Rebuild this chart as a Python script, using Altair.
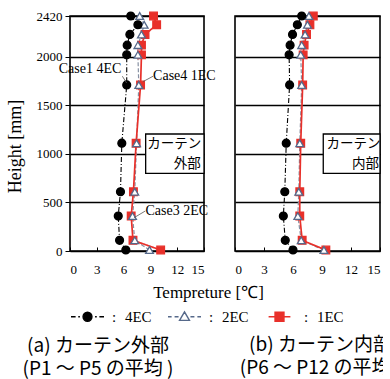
import altair as alt
import pandas as pd

# ---------------- data ----------------
series_names = ["4EC", "2EC", "1EC"]
heights = [2420, 2330, 2230, 2120, 2020, 1710, 1110, 610, 360, 110, 10]

# (a) curtain outside (P1-P5 average)
a_4ec = [6.8, 7.6, 6.7, 6.4, 6.35, 6.35, 5.8, 5.65, 5.4, 5.55, 6.25]
a_2ec = [7.8, 8.3, 8.0, 7.6, 7.6, 7.7, 7.45, 7.25, 7.0, 7.25, 8.9]
a_1ec = [9.35, 9.7, 8.4, 8.0, 8.0, 7.9, 7.4, 7.1, 6.85, 7.05, 10.15]

# (b) curtain inside (P6-P12 average)
b_4ec = [6.9, 6.45, 5.95, 5.7, 5.6, 5.65, 5.3, 5.15, 5.0, 5.2, 6.0]
b_2ec = [7.65, 7.5, 7.25, 6.9, 6.8, 6.9, 6.7, 6.6, 6.5, 6.85, 9.2]
b_1ec = [8.1, 7.75, 7.4, 7.15, 7.05, 7.0, 6.8, 6.7, 6.7, 6.95, 9.4]

x_ticks = [0, 3, 6, 9, 12, 15]
y_ticks = [0, 500, 1000, 1500, 2000, 2420]

# annotations in panel (a)
ann_labels = ["Case1 4EC", "Case4 1EC", "Case3 2EC"]
ann_x = [5.75, 9.3, 8.45]
ann_y = [1874, 1807, 415]
ann_align = ["right", "left", "left"]
lead_x1 = [5.86, 8.17, 7.17]
lead_y1 = [1800, 1744, 343]
lead_x2 = [6.34, 9.3, 8.43]
lead_y2 = [1730, 1800, 412]

box_line1 = "カーテン"
box_line2_a = "外部"
box_line2_b = "内部"

SERIF = "Liberation Serif"
CJK = "Noto Sans CJK JP"
RED = "#e8302a"
TRI = "#56698a"

LINE_STYLE = {
    "4EC": dict(color="black", strokeDash=[5, 2, 1, 2], strokeWidth=1.1),
    "2EC": dict(color="#8791a3", strokeDash=[4, 2], strokeWidth=1.2),
    "1EC": dict(color=RED, strokeDash=[1, 0], strokeWidth=1.7),
}
POINT_STYLE = {
    "4EC": dict(shape="circle", fill="black", stroke="black", size=62),
    "2EC": dict(shape="triangle-up", fill="white", stroke=TRI, size=60),
    "1EC": dict(shape="square", fill=RED, stroke=RED, size=58),
}

# legend keys: line + marker drawn as one symbol path
P4 = ("M-1,0H-0.72M-0.56,0H-0.46M0.46,0H0.56M0.72,0H1"
      "M0.27,0A0.27,0.27,0,1,1,-0.27,0A0.27,0.27,0,1,1,0.27,0Z")
P2 = "M-1,0H-0.78M-0.6,0H-0.36M0.36,0H0.6M0.78,0H1M0,-0.3L0.3,0.22L-0.3,0.22Z"
P1 = "M-0.66,0H0.66M-0.27,-0.27H0.27V0.27H-0.27Z"


def long_df(v4, v2, v1):
    rows = []
    for name, vals in (("1EC", v1), ("2EC", v2), ("4EC", v4)):
        for h, t in zip(heights, vals):
            rows.append({"series": name, "height": h, "temp": t})
    return pd.DataFrame(rows)


def panel(df, width, show_y, box_x1, line1_x, line2, line2_x, with_legend, title_text, title_dx, title_offset, annotate):
    xs = alt.Scale(domain=[0, 15], nice=False, zero=False)
    ys = alt.Scale(domain=[0, 2420], nice=False, zero=False)
    xaxis = alt.Axis(
        values=x_ticks, grid=False, domain=False, tickSize=4, tickColor="black",
        tickWidth=1, offset=-4, labelFont=SERIF, labelFontSize=13, labelColor="black",
        labelPadding=12, format="d",
        title="Tempreture [℃]" if show_y else None,
        titleFont=SERIF, titleFontSize=17, titleFontWeight="normal", titleColor="black",
        titleX=138, titlePadding=8,
    )
    if show_y:
        yaxis = alt.Axis(
            values=y_ticks, grid=True, gridColor="black", gridWidth=1.5, gridOpacity=1,
            domain=False, tickSize=5, tickColor="black", tickWidth=1, format="d",
            labelFont=SERIF, labelFontSize=13, labelColor="black", labelPadding=3,
            title="Height [mm]", titleFont=SERIF, titleFontSize=18,
            titleFontWeight="normal", titleColor="black", titlePadding=12, titleY=130,
        )
    else:
        yaxis = alt.Axis(
            values=y_ticks, grid=True, gridColor="black", gridWidth=1.5, gridOpacity=1,
            domain=False, ticks=False, labels=False, title=None,
        )

    def X(f):
        return alt.X(f, type="quantitative", scale=xs, axis=xaxis)

    def Y(f):
        return alt.Y(f, type="quantitative", scale=ys, axis=yaxis)

    base = alt.Chart(df)
    layers = []
    for name in ["4EC", "2EC", "1EC"]:
        layers.append(
            base.transform_filter(alt.datum.series == name).mark_line(**LINE_STYLE[name]).encode(
                x=X("temp"), y=Y("height"), order=alt.Order("height:Q")
            )
        )
    for name in ["1EC", "2EC", "4EC"]:
        st = POINT_STYLE[name]
        layers.append(
            base.transform_filter(alt.datum.series == name).mark_point(
                shape=st["shape"], fill=st["fill"], stroke=st["stroke"], size=st["size"],
                filled=True, opacity=1, strokeWidth=1.3,
            ).encode(x=X("temp"), y=Y("height"))
        )

    if with_legend:
        leg = alt.Legend(
            title=None, orient="none", legendX=0, legendY=283, direction="horizontal",
            symbolSize=1090, symbolStrokeWidth=1.4, symbolOpacity=1,
            labelFont=SERIF, labelFontSize=15, labelColor="black",
            labelOffset=7, columnPadding=13,
            labelExpr="':\u00a0\u00a0\u200a' + datum.label",
        )
        legend_layer = base.transform_filter("false").mark_point(opacity=1, filled=True).encode(
            x=X("temp"), y=Y("height"),
            shape=alt.Shape("series:N", scale=alt.Scale(domain=series_names, range=[P4, P2, P1]), legend=leg),
            fill=alt.Fill("series:N", scale=alt.Scale(domain=series_names, range=["black", "white", RED]), legend=leg),
            stroke=alt.Stroke("series:N", scale=alt.Scale(domain=series_names, range=["black", TRI, RED]), legend=leg),
        )
        layers.append(legend_layer)

    box_df = pd.DataFrame({"temp": [box_x1], "temp2": [15], "height": [800], "height2": [1205]})
    box = alt.Chart(box_df).mark_rect(fill="white", stroke="black", strokeWidth=1.3).encode(
        x=X("temp"), x2="temp2", y=Y("height"), y2="height2"
    )
    t1 = alt.Chart(pd.DataFrame({"temp": [line1_x], "height": [1102], "label": [box_line1]})).mark_text(
        align="left", baseline="middle", font=CJK, fontSize=13.5, color="black"
    ).encode(x=X("temp"), y=Y("height"), text="label:N")
    t2 = alt.Chart(pd.DataFrame({"temp": [line2_x], "height": [898], "label": [line2]})).mark_text(
        align="right", baseline="middle", font=CJK, fontSize=13.5, color="black"
    ).encode(x=X("temp"), y=Y("height"), text="label:N")
    layers += [box, t1, t2]

    if annotate:
        ann = pd.DataFrame({"label": ann_labels, "temp": ann_x, "height": ann_y, "align": ann_align})
        lead = pd.DataFrame({"temp": lead_x1, "height": lead_y1, "temp2": lead_x2, "height2": lead_y2})
        rules = alt.Chart(lead).mark_rule(color="#555555", strokeWidth=0.8).encode(
            x=X("temp"), y=Y("height"), x2="temp2", y2="height2"
        )
        ar = alt.Chart(ann).transform_filter("datum.align == 'right'").mark_text(
            align="right", baseline="middle", font=SERIF, fontSize=14, color="black"
        ).encode(x=X("temp"), y=Y("height"), text="label:N")
        al = alt.Chart(ann).transform_filter("datum.align == 'left'").mark_text(
            align="left", baseline="middle", font=SERIF, fontSize=14, color="black"
        ).encode(x=X("temp"), y=Y("height"), text="label:N")
        layers += [rules, ar, al]

    return alt.layer(*layers).properties(
        width=width, height=235,
        title=alt.TitleParams(
            text=title_text, orient="bottom", anchor="middle", dx=title_dx, offset=title_offset,
            font=CJK, fontSize=19, fontWeight="normal", color="black", lineHeight=23,
        ),
    )


left = panel(long_df(a_4ec, a_2ec, a_1ec), 134, True, 8.47, 8.66, box_line2_a, 14.65, True,
             ["(a) カーテン外部", "(P1 ～ P5 の平均 )"], -39, 12, True)
right = panel(long_df(b_4ec, b_2ec, b_1ec), 145, False, 9.13, 9.47, box_line2_b, 14.9, False,
              ["(b) カーテン内部", "(P6 ～ P12 の平均 )"], 13, 60, False)

chart = alt.hconcat(left, right, spacing=31, bounds="flush").resolve_scale(
    shape="independent", fill="independent", stroke="independent",
).resolve_legend(shape="independent", fill="independent", stroke="independent").configure_view(
    stroke="black", strokeWidth=1.6
).properties(
    padding={"left": 5, "top": 8, "right": -20, "bottom": 0}, background="white"
)

chart.save("out.html", embed_options={"renderer": "svg", "actions": False})
